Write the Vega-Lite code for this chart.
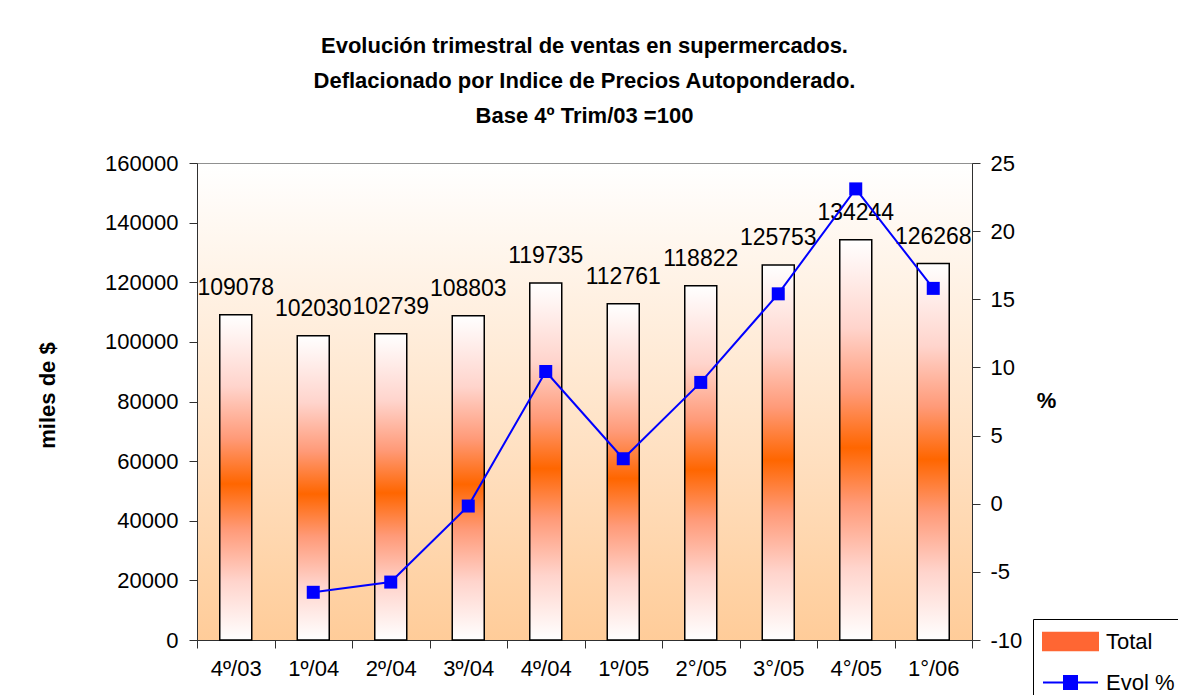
{
  "$schema": "https://vega.github.io/schema/vega-lite/v6.json",
  "width": 775,
  "height": 477,
  "autosize": {"type": "none"},
  "padding": {"left": 197, "top": 163, "right": 206, "bottom": 55},
  "background": "white",
  "title": {
    "text": ["Evolución trimestral de ventas en supermercados.", "Deflacionado por Indice de Precios Autoponderado.", "Base 4º Trim/03 =100"],
    "font": "Liberation Sans",
    "fontSize": 22,
    "fontWeight": "bold",
    "lineHeight": 35,
    "anchor": "middle",
    "offset": 24,
    "color": "black"
  },
  "config": {
    "view": {
      "stroke": "#909090",
      "strokeWidth": 1,
      "fill": {
        "gradient": "linear", "x1": 0, "y1": 0, "x2": 0, "y2": 1,
        "stops": [
          {"offset": 0, "color": "#FFFFFF"},
          {"offset": 1, "color": "#FFCC99"}
        ]
      }
    },
    "axis": {
      "labelFont": "Liberation Sans",
      "labelFontSize": 22,
      "labelColor": "black",
      "titleFont": "Liberation Sans",
      "titleFontSize": 22,
      "titleFontWeight": "bold",
      "titleColor": "black",
      "domainColor": "#303030",
      "tickColor": "#303030",
      "tickSize": 8,
      "grid": false
    }
  },
  "data": {
    "values": [
      {"q": "4º/03", "total": 109078, "evol": null},
      {"q": "1º/04", "total": 102030, "evol": -6.5},
      {"q": "2º/04", "total": 102739, "evol": -5.75},
      {"q": "3º/04", "total": 108803, "evol": -0.17},
      {"q": "4º/04", "total": 119735, "evol": 9.7},
      {"q": "1º/05", "total": 112761, "evol": 3.3},
      {"q": "2°/05", "total": 118822, "evol": 8.9},
      {"q": "3°/05", "total": 125753, "evol": 15.4},
      {"q": "4°/05", "total": 134244, "evol": 23.1},
      {"q": "1°/06", "total": 126268, "evol": 15.8}
    ]
  },
  "encoding": {
    "x": {
      "field": "q",
      "type": "nominal",
      "sort": null,
      "scale": {"paddingInner": 0, "paddingOuter": 0},
      "axis": {"title": null, "labelAngle": 0, "tickBand": "extent", "labelPadding": 10, "labelBaseline": "top"}
    }
  },
  "layer": [
    {
      "encoding": {
        "y": {
          "field": "total",
          "type": "quantitative",
          "scale": {"domain": [0, 160000], "nice": false},
          "axis": {
            "title": "miles de $",
            "values": [0, 20000, 40000, 60000, 80000, 100000, 120000, 140000, 160000],
            "format": "d",
            "labelPadding": 11,
            "titleAngle": -90,
            "titleX": -150,
            "titleY": 232,
            "titleAlign": "center",
            "titleBaseline": "middle"
          }
        }
      },
      "layer": [
        {
          "mark": {
            "type": "bar",
            "width": 32,
            "stroke": "black",
            "strokeWidth": 1.5,
            "fill": {
              "gradient": "linear", "x1": 0, "y1": 0, "x2": 0, "y2": 1,
              "stops": [
                {"offset": 0, "color": "#FFFFFF"},
                {"offset": 0.22, "color": "#FFD4CC"},
                {"offset": 0.38, "color": "#FF9A78"},
                {"offset": 0.52, "color": "#FF6600"},
                {"offset": 0.66, "color": "#FF9A78"},
                {"offset": 0.82, "color": "#FFD4CC"},
                {"offset": 1, "color": "#FFFFFF"}
              ]
            }
          }
        },
        {
          "mark": {"type": "text", "baseline": "alphabetic", "dy": -20, "font": "Liberation Sans", "fontSize": 23, "color": "black"},
          "encoding": {"text": {"field": "total", "type": "quantitative", "format": "d"}}
        }
      ]
    },
    {
      "transform": [{"filter": "isValid(datum.evol)"}],
      "mark": {
        "type": "line",
        "strokeWidth": 2,
        "point": {"shape": "square", "size": 169, "filled": true, "opacity": 1}
      },
      "encoding": {
        "y": {
          "field": "evol",
          "type": "quantitative",
          "scale": {"domain": [-10, 25], "nice": false},
          "axis": {
            "orient": "right",
            "title": "%",
            "values": [-10, -5, 0, 5, 10, 15, 20, 25],
            "labelExpr": "'' + datum.value",
            "labelPadding": 10,
            "titleAngle": 0,
            "titleX": 74,
            "titleY": 237,
            "titleAlign": "center",
            "titleBaseline": "middle"
          }
        },
        "color": {
          "datum": "Evol %",
          "type": "nominal",
          "scale": {"domain": ["Total", "Evol %"], "range": ["#FF6633", "#0000FF"]},
          "legend": {
            "orient": "none",
            "legendX": 836,
            "legendY": 456,
            "title": null,
            "padding": 9,
            "strokeColor": "black",
            "fillColor": "white",
            "cornerRadius": 0,
            "symbolSize": 625,
            "symbolStrokeWidth": 2,
            "labelOffset": 37,
            "labelFont": "Liberation Sans",
            "labelFontSize": 22,
            "labelColor": "black",
            "rowPadding": 14,
            "encode": {
              "symbols": {
                "update": {
                  "shape": [
                    {"test": "datum.value === 'Total'", "value": "M-1,-0.7H3.4V0.7H-1Z"},
                    {"value": "M-1,0H3.4M0.68,-0.52H1.72V0.52H0.68Z"}
                  ],
                  "fill": {"signal": "datum.value === 'Total' ? {gradient: 'linear', x1: 0, y1: 0, x2: 0, y2: 1, stops: [{offset: 0, color: '#FFFFFF'}, {offset: 0.5, color: '#FF6633'}, {offset: 1, color: '#FFFFFF'}]} : '#0000FF'"},
                  "stroke": {"signal": "datum.value === 'Total' ? 'black' : '#0000FF'"},
                  "strokeWidth": {"value": 2},
                  "opacity": {"value": 1}
                }
              }
            }
          }
        }
      }
    }
  ],
  "resolve": {"scale": {"y": "independent"}}
}
